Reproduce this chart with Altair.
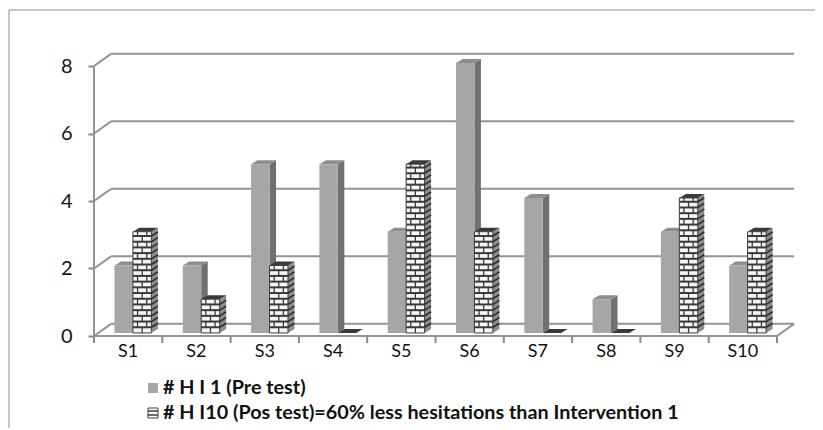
import altair as alt
import pandas as pd

# ---------------- data ----------------
subjects = ["S1", "S2", "S3", "S4", "S5", "S6", "S7", "S8", "S9", "S10"]
pre_test = [2, 2, 5, 5, 3, 8, 4, 1, 3, 2]
post_test = [3, 1, 2, 0, 5, 3, 0, 0, 4, 3]
series_names = ["# H I 1 (Pre test)",
                "# H I10 (Pos test)=60% less hesitations than Intervention 1"]
y_ticks = [0, 2, 4, 6, 8]

# ---------------- layout (units of category / value) ----------------
PX_X, PX_Y = 68.3, 33.75
W, H = 701, 284
XMAX, YMAX = W / PX_X, H / PX_Y
DX, DY = 0.25, 0.36          # depth of floor / wall
YB = 0.09                    # bar base (mid depth)
BAR_W = 0.27
GRAY_X0 = 0.30
SX, SY = 0.095, 0.12         # bar depth
ROW = 0.169                  # brick row height
NCAT = len(subjects)
FONT = "Lato"

xs = alt.Scale(domain=[0, XMAX], nice=False, zero=False)
ys = alt.Scale(domain=[0, YMAX], nice=False, zero=False)

yaxis = alt.Axis(values=y_ticks, domain=False, grid=False, ticks=True, tickSize=6,
                 tickColor="#8a8a8a", tickWidth=2, labelFont=FONT, labelFontSize=20,
                 labelColor="#111111", labelPadding=16, title=None)


def X(f):
    return alt.X(f, type="quantitative", scale=xs, axis=None)


def Y(f):
    return alt.Y(f, type="quantitative", scale=ys, axis=yaxis)


# ---------------- frame: walls, floor, axes ----------------
lines = []
for v in y_ticks:
    lines.append(dict(k="grid", x=0, y=v, x2=DX, y2=v + DY))
    lines.append(dict(k="grid", x=DX, y=v + DY, x2=NCAT + DX, y2=v + DY))
lines.append(dict(k="grid", x=NCAT, y=0, x2=NCAT + DX, y2=DY))
lines.append(dict(k="axis", x=0, y=0, x2=0, y2=max(y_ticks)))
lines.append(dict(k="axis", x=0, y=0, x2=NCAT, y2=0))
lines_df = pd.DataFrame(lines)

grid_layer = alt.Chart(lines_df).mark_rule(color="#949494", strokeWidth=2).encode(
    x=X("x"), x2="x2", y=Y("y"), y2="y2")

xticks_df = pd.DataFrame({"x": list(range(NCAT + 1)), "y": [0] * (NCAT + 1)})
xtick_layer = alt.Chart(xticks_df).mark_rule(color="#8a8a8a", strokeWidth=2).encode(
    x=X("x"), y=Y("y"), y2=alt.value(H + 7))

xlab_df = pd.DataFrame({"x": [i + 0.5 for i in range(NCAT)], "t": subjects})
xlab_layer = alt.Chart(xlab_df).mark_text(font=FONT, fontSize=18, color="#111111",
                                          baseline="middle").encode(
    x=X("x"), y=alt.value(H + 16), text="t:N")

# ---------------- bars ----------------
bars, side, top = [], [], []
for i, (a, b) in enumerate(zip(pre_test, post_test)):
    for s, v in ((0, a), (1, b)):
        xl = i + GRAY_X0 + s * BAR_W
        xr = xl + BAR_W
        bid = f"{i}-{s}"
        bars.append(dict(id=bid, s=s, xl=xl, xr=xr, y0=YB, y1=YB + v, v=v))
        side.append(dict(id=bid, s=s, x=xr, top=YB + v, bot=YB))
        side.append(dict(id=bid, s=s, x=xr + SX, top=YB + v + SY, bot=YB + SY))
        top.append(dict(id=bid, s=s, y=YB + v, xa=xl, xb=xr))
        top.append(dict(id=bid, s=s, y=YB + v + SY, xa=xl + SX, xb=xr + SX))
bars_df = pd.DataFrame(bars)
side_df = pd.DataFrame(side)
top_df = pd.DataFrame(top)

# brick pattern derived from the post-test bars
pat = []
for r in bars_df[bars_df.s == 1].itertuples():
    if r.v <= 0:
        continue
    k = 0
    y = r.y0
    while y < r.y1 - 1e-6:
        y_hi = min(y + ROW, r.y1)
        fr = [0.5] if k % 2 == 0 else [0.25, 0.75]
        for f in fr:
            xj = r.xl + f * (r.xr - r.xl)
            pat.append(dict(k="joint", x=xj, x2=xj, y=y, y2=y_hi))
        if y > r.y0 + 1e-6:
            pat.append(dict(k="mortar", x=r.xl, x2=r.xr, y=y, y2=y))
            pat.append(dict(k="sidem", x=r.xr, x2=r.xr + SX, y=y, y2=y + SY))
        y += ROW
        k += 1
pat_df = pd.DataFrame(pat)


def side_layer(s, color):
    return alt.Chart(side_df).transform_filter(f"datum.s == {s}").mark_area(
        orient="vertical", color=color).encode(
        x=X("x"), y=Y("top"), y2="bot", detail="id:N")


def top_layer(s, color):
    return alt.Chart(top_df).transform_filter(f"datum.s == {s}").mark_area(
        orient="horizontal", color=color).encode(
        y=Y("y"), x=X("xa"), x2="xb", detail="id:N")


def front_layer(s, fill, stroke=None):
    kw = dict(fill=fill)
    if stroke:
        kw.update(stroke=stroke, strokeWidth=1)
    return alt.Chart(bars_df).transform_filter(f"datum.s == {s} && datum.v > 0").mark_rect(
        **kw).encode(x=X("xl"), x2="xr", y=Y("y0"), y2="y1")


def pat_layer(kind, color, width):
    return alt.Chart(pat_df).transform_filter(f"datum.k == '{kind}'").mark_rule(
        color=color, strokeWidth=width).encode(x=X("x"), x2="x2", y=Y("y"), y2="y2")


layers = [
    grid_layer, xtick_layer, xlab_layer,
    side_layer(0, "#707070"), top_layer(0, "#8e8e8e"), front_layer(0, "#a6a6a6"),
    side_layer(1, "#8c8c8c"), top_layer(1, "#3a3a3a"), front_layer(1, "#f6f6f6", "#3c3c3c"),
    pat_layer("mortar", "#3a3a3a", 2.0), pat_layer("joint", "#3a3a3a", 1.3),
    pat_layer("sidem", "#2e2e2e", 1.6),
]

# ---------------- legend ----------------
leg = pd.DataFrame({"t": series_names, "row": [0, 1]})
LX, LY0, LDY = 69, 336, 25
layers.append(alt.Chart(leg).transform_filter("datum.row == 0").mark_rect(
    color="#a6a6a6").encode(x=alt.value(LX - 15), x2=alt.value(LX - 5),
                            y=alt.value(LY0 - 5), y2=alt.value(LY0 + 5)))
layers.append(alt.Chart(leg).transform_filter("datum.row == 1").mark_rect(
    fill="#ffffff", stroke="#3c3c3c", strokeWidth=1).encode(
    x=alt.value(LX - 15), x2=alt.value(LX - 5),
    y=alt.value(LY0 + LDY - 5), y2=alt.value(LY0 + LDY + 5)))
for dy in (-2, 2):
    layers.append(alt.Chart(leg).transform_filter("datum.row == 1").mark_rule(
        color="#3c3c3c", strokeWidth=1.5).encode(
        x=alt.value(LX - 15), x2=alt.value(LX - 5), y=alt.value(LY0 + LDY + dy)))
for r in (0, 1):
    layers.append(alt.Chart(leg).transform_filter(f"datum.row == {r}").mark_text(
        font=FONT, fontSize=19.8, fontWeight="bold", color="#111111", align="left",
        baseline="middle").encode(x=alt.value(LX), y=alt.value(LY0 + r * LDY), text="t:N"))

# ---------------- outer frame ----------------
frame = pd.DataFrame({"a": [0]})
layers.append(alt.Chart(frame).mark_rule(color="#8c8c8c", strokeWidth=1).encode(
    x=alt.value(-85), x2=alt.value(W + 40), y=alt.value(-42)))
layers.append(alt.Chart(frame).mark_rule(color="#8c8c8c", strokeWidth=1).encode(
    x=alt.value(-85), y=alt.value(-42), y2=alt.value(H + 120)))

chart = alt.layer(*layers).properties(
    width=W, height=H,
    autosize=alt.AutoSizeParams(type="none"),
    padding={"left": 86, "top": 44, "right": 20, "bottom": 92},
    background="white",
).configure_view(stroke=None)

chart.save("out.html", embed_options={"renderer": "svg", "actions": False})
